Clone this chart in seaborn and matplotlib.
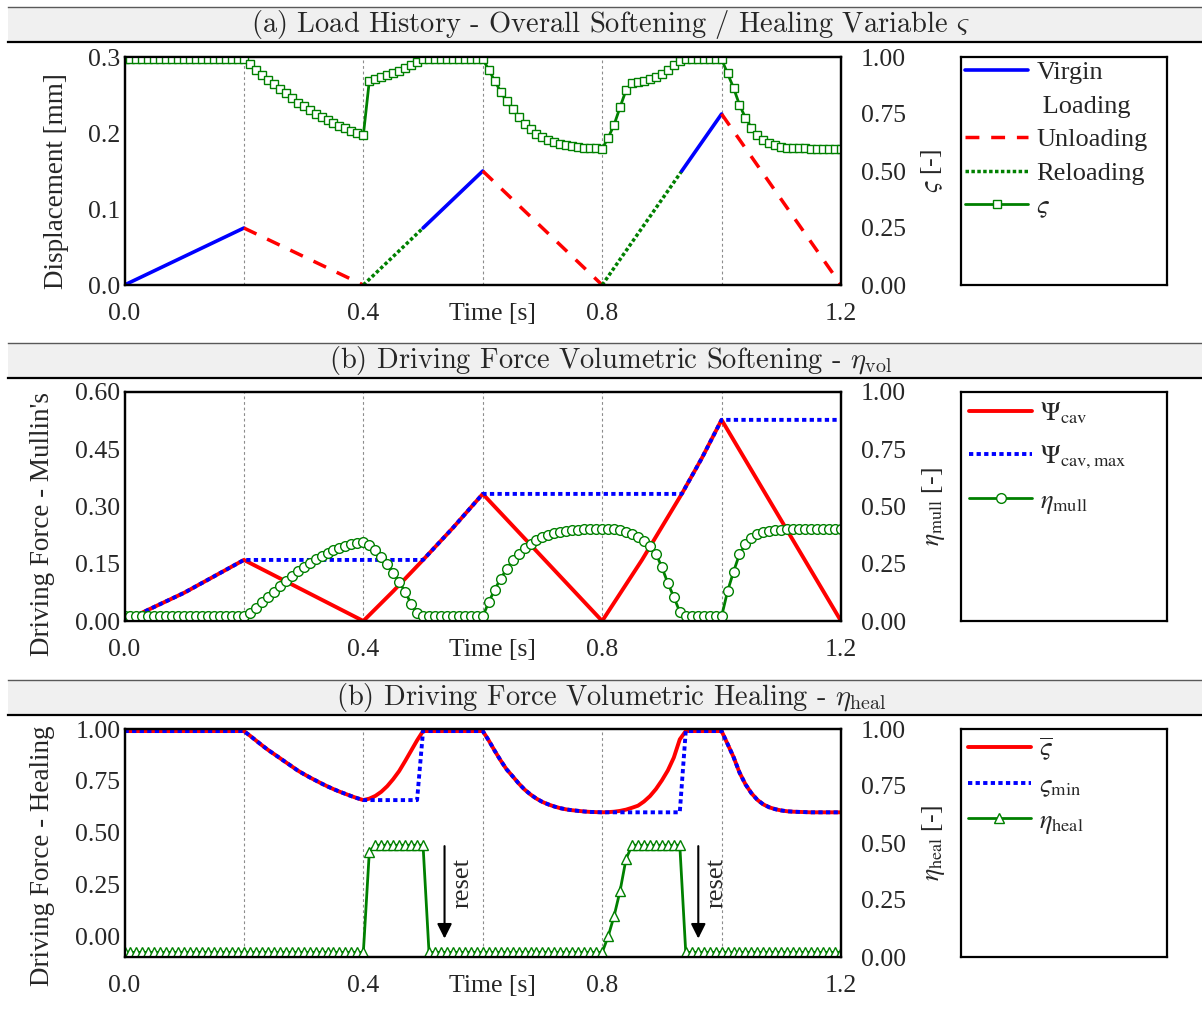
import numpy as np
import matplotlib
matplotlib.use("Agg")
import matplotlib.pyplot as plt
import matplotlib.ticker as mticker
from matplotlib.lines import Line2D
import seaborn as sns

# ---------------- data ----------------
time = np.round(np.arange(121) * 0.01, 2)      # 0.00 ... 1.20 s

# displacement history: vertices and the loading phase of each leg
disp_t = [0.0, 0.2, 0.4, 0.5, 0.6, 0.8, 0.9333, 1.0, 1.2]
disp_u = [0.0, 0.075, 0.0, 0.075, 0.15, 0.0, 0.15, 0.225, 0.0]
disp_phase = ["virgin", "unload", "reload", "virgin", "unload", "reload", "virgin", "unload"]

cycle_marks = [0.2, 0.4, 0.6, 0.8, 1.0]

# softening branches shared by sigma, sigma_bar and sigma_min
soft_a = [0.99, 0.968, 0.945, 0.922, 0.90, 0.88, 0.86, 0.84, 0.82, 0.80,
          0.783, 0.767, 0.752, 0.737, 0.723, 0.71, 0.698, 0.687, 0.676, 0.666,
          0.657]                                             # 0.20 - 0.40 s
soft_b = [0.99, 0.945, 0.895, 0.848, 0.805, 0.772, 0.738, 0.708, 0.684, 0.664,
          0.648, 0.636, 0.626, 0.618, 0.612, 0.608, 0.605, 0.602, 0.60, 0.599,
          0.598]                                             # 0.60 - 0.80 s
soft_c = [0.99, 0.928, 0.865, 0.79, 0.733, 0.69, 0.658, 0.636, 0.622, 0.613,
          0.607, 0.603, 0.601, 0.60, 0.599, 0.598, 0.598, 0.598, 0.598, 0.598,
          0.598]                                             # 1.00 - 1.20 s

sigma = ([0.99] * 20 + soft_a
         + [0.895, 0.903, 0.911, 0.92, 0.929, 0.938, 0.95, 0.963, 0.978, 0.99] + [0.99] * 9
         + soft_b
         + [0.645, 0.703, 0.78, 0.855, 0.886, 0.891, 0.896, 0.903, 0.913,
            0.926, 0.943, 0.963, 0.983] + [0.99] * 6
         + soft_c)

sig_bar = ([0.99] * 20 + soft_a
           + [0.664, 0.677, 0.697, 0.724, 0.758, 0.797, 0.845, 0.895, 0.945] + [0.99] * 10
           + soft_b
           + [0.599, 0.601, 0.605, 0.611, 0.62, 0.63, 0.65, 0.676, 0.71,
              0.752, 0.80, 0.862, 0.95] + [0.99] * 6
           + soft_c)

sig_min = ([0.99] * 20 + soft_a
           + [0.657] * 9 + [0.99] * 10
           + soft_b
           + [0.598] * 13 + [0.99] * 6
           + soft_c)

eta_mull = ([0.02] * 21
            + [0.035, 0.058, 0.082, 0.105, 0.128, 0.152, 0.175, 0.196, 0.217, 0.236,
               0.254, 0.27, 0.285, 0.298, 0.31, 0.32, 0.329, 0.336, 0.341, 0.345]
            + [0.33, 0.308, 0.28, 0.247, 0.21, 0.172, 0.127, 0.076, 0.035, 0.02]
            + [0.02] * 10
            + [0.082, 0.137, 0.185, 0.227, 0.265, 0.293, 0.318, 0.338, 0.354, 0.367,
               0.377, 0.385, 0.39, 0.394, 0.397, 0.399, 0.401, 0.402, 0.403, 0.403]
            + [0.402, 0.40, 0.396, 0.39, 0.38, 0.367, 0.35, 0.327, 0.294, 0.235,
               0.165, 0.105, 0.04, 0.02]
            + [0.02] * 6
            + [0.13, 0.215, 0.292, 0.335, 0.362, 0.378, 0.388, 0.394, 0.397, 0.399]
            + [0.40] * 10)

eta_heal = ([0.02] * 41
            + [0.46] + [0.49] * 9
            + [0.02] * 30
            + [0.09, 0.18, 0.29, 0.43] + [0.49] * 9
            + [0.02] * 27)

psi_t = [0.0, 0.1, 0.2, 0.4, 0.45, 0.5, 0.55, 0.6, 0.8, 0.8667, 0.9333, 0.9667, 1.0, 1.2]
psi = [0.0, 0.074, 0.16, 0.0, 0.078, 0.16, 0.244, 0.333, 0.0, 0.16, 0.333, 0.426, 0.527, 0.0]
psimax_t = [0.0, 0.1, 0.2, 0.5, 0.55, 0.6, 0.9333, 0.9667, 1.0, 1.2]
psimax = [0.0, 0.074, 0.16, 0.16, 0.244, 0.333, 0.333, 0.426, 0.527, 0.527]

reset_t = [0.536, 0.961]
reset_label_t = [0.566, 0.992]

# ---------------- style ----------------
sns.set_theme(style="white")
plt.rcParams["font.family"] = ["Liberation Serif", "DejaVu Serif"]
plt.rcParams["mathtext.fontset"] = "stix"
plt.rcParams["axes.unicode_minus"] = False

FS = 18.5
LFS = 19
W, H = 1202, 1010
GREEN, RED, BLUE = "#008000", "#ff0000", "#0000ff"
DASH = (0, (4, 3.4))
DOT_G = (0, (1, 0.7))
DOT_B = (0, (1.1, 0.85))


def box(x0, y0, x1, y1):
    return [x0 / W, 1 - y1 / H, (x1 - x0) / W, (y1 - y0) / H]


fig = plt.figure(figsize=(W / 100, H / 100), dpi=100)


def title_bar(y0, y1, text):
    tb = fig.add_axes(box(8, y0, W, y1))
    tb.set_facecolor("#f0f0f0")
    tb.set_xticks([])
    tb.set_yticks([])
    tb.spines["left"].set_visible(False)
    tb.spines["right"].set_visible(False)
    tb.spines["top"].set(color="0.35", linewidth=1.0)
    tb.spines["bottom"].set(color="black", linewidth=1.6)
    tb.text(0.505, 0.5, text, transform=tb.transAxes, ha="center", va="center",
            fontsize=20.5, family="cmr10", math_fontfamily="cm")


def make_axes(y0, y1):
    ax = fig.add_axes(box(124.5, y0, 841, y1))
    ax2 = ax.twinx()
    for t in cycle_marks:
        ax.axvline(t, color="0.55", lw=0.8, ls=(0, (2.5, 2.5)), zorder=0)
    return ax, ax2


def finish(ax, ax2, ylim, yticks, yfmt, ylabel, ylab_x, ylab_y, rlabel):
    ax.set_xlim(0, 1.2)
    ax.set_xticks([0.0, 0.4, 0.8, 1.2])
    ax.xaxis.set_major_formatter(mticker.FormatStrFormatter("%.1f"))
    ax.set_ylim(*ylim)
    ax.set_yticks(yticks)
    ax.yaxis.set_major_formatter(mticker.FormatStrFormatter(yfmt))
    ax2.set_ylim(0, 1)
    ax2.set_yticks([0, 0.25, 0.5, 0.75, 1.0])
    ax2.yaxis.set_major_formatter(mticker.FormatStrFormatter("%.2f"))
    ax.tick_params(axis="x", length=0, pad=13, labelsize=FS)
    ax.tick_params(axis="y", length=0, pad=3, labelsize=FS)
    ax2.tick_params(axis="y", length=0, pad=14.5, labelsize=FS)
    for a in (ax, ax2):
        for s in a.spines.values():
            s.set(color="black", linewidth=1.6)
    ax.set_xlabel("Time [s]", fontsize=FS)
    ax.xaxis.set_label_coords(0.514, -18 / 228)
    ax.set_ylabel(ylabel, fontsize=19.5)
    ax.yaxis.set_label_coords(ylab_x, ylab_y)
    ax2.set_ylabel(rlabel, fontsize=FS)
    ax2.yaxis.set_label_coords(1.11, 0.5)


def legend_box(y0, y1, handles, labels, spacing, pad):
    lg = fig.add_axes(box(961, y0, 1167, y1))
    lg.set_xticks([])
    lg.set_yticks([])
    lg.set_facecolor("white")
    for s in lg.spines.values():
        s.set(color="black", linewidth=1.6)
    lg.legend(handles, labels, loc="upper left", bbox_to_anchor=(0, 1),
              borderaxespad=0, borderpad=pad, frameon=False, handlelength=2.4,
              handletextpad=0.3, labelspacing=spacing, fontsize=LFS)


# ---------------- (a) load history ----------------
title_bar(7, 42, r"(a) Load History - Overall Softening / Healing Variable $\varsigma$")
ax, ax2 = make_axes(57, 285)
phase_style = {"virgin": dict(color=BLUE, lw=2.6),
               "unload": dict(color=RED, lw=2.5, linestyle=DASH),
               "reload": dict(color=GREEN, lw=2.5, linestyle=DOT_G)}
first = {}
for i, ph in enumerate(disp_phase):
    sns.lineplot(x=disp_t[i:i + 2], y=disp_u[i:i + 2], ax=ax, sort=False,
                 estimator=None, legend=False, **phase_style[ph])
    first.setdefault(ph, ax.lines[-1])
sns.lineplot(x=time, y=sigma, ax=ax2, sort=False, estimator=None, legend=False,
             color=GREEN, lw=2, marker="s", ms=6, mfc="white", mec=GREEN, mew=1)
h_sig = ax2.lines[-1]
finish(ax, ax2, (0, 0.3), [0, 0.1, 0.2, 0.3], "%.1f", "Displacement [mm]",
       -0.0775, 0.456, r"$\varsigma$ [-]")
legend_box(57, 285,
           [first["virgin"], Line2D([], [], ls="none"), first["unload"], first["reload"], h_sig],
           ["Virgin", " Loading", "Unloading", "Reloading", r"$\varsigma$"], 0.38, 0.15)

# ---------------- (b) volumetric softening ----------------
title_bar(343, 378, r"(b) Driving Force Volumetric Softening - $\eta_{\mathrm{vol}}$")
ax, ax2 = make_axes(392, 621)
sns.lineplot(x=psi_t, y=psi, ax=ax, sort=False, estimator=None, legend=False,
             color=RED, lw=2.8)
h_psi = ax.lines[-1]
sns.lineplot(x=psimax_t, y=psimax, ax=ax, sort=False, estimator=None, legend=False,
             color=BLUE, lw=2.8, linestyle=DOT_B)
h_psimax = ax.lines[-1]
sns.lineplot(x=time, y=eta_mull, ax=ax2, sort=False, estimator=None, legend=False,
             color=GREEN, lw=2, marker="o", ms=7, mfc="white", mec=GREEN, mew=1)
h_mull = ax2.lines[-1]
finish(ax, ax2, (0, 0.6), [0, 0.15, 0.30, 0.45, 0.60], "%.2f", "Driving Force - Mullin's",
       -0.097, 0.424, r"$\eta_{\mathrm{mull}}$ [-]")
legend_box(392, 621, [h_psi, h_psimax, h_mull],
           [r"$\Psi_{\mathrm{cav}}$", r"$\Psi_{\mathrm{cav,max}}$", r"$\eta_{\mathrm{mull}}$"],
           0.68, 0.3)

# ---------------- (c) volumetric healing ----------------
title_bar(680, 715, r"(b) Driving Force Volumetric Healing - $\eta_{\mathrm{heal}}$")
ax, ax2 = make_axes(729, 957)
sns.lineplot(x=time, y=sig_bar, ax=ax, sort=False, estimator=None, legend=False,
             color=RED, lw=2.8)
h_bar = ax.lines[-1]
sns.lineplot(x=time, y=sig_min, ax=ax, sort=False, estimator=None, legend=False,
             color=BLUE, lw=2.8, linestyle=DOT_B)
h_min = ax.lines[-1]
sns.lineplot(x=time, y=eta_heal, ax=ax2, sort=False, estimator=None, legend=False,
             color=GREEN, lw=2, marker="^", ms=6.5, mfc="white", mec=GREEN, mew=1)
h_heal = ax2.lines[-1]
for xa, xt in zip(reset_t, reset_label_t):
    ax.annotate("", xy=(xa, -0.011), xytext=(xa, 0.435),
                arrowprops=dict(arrowstyle="-|>", color="black", lw=1.5,
                                mutation_scale=22, shrinkA=0, shrinkB=0))
    ax.text(xt, 0.258, "reset", rotation=90, ha="center", va="center", fontsize=LFS)
finish(ax, ax2, (-0.1, 1.0), [0, 0.25, 0.5, 0.75, 1.0], "%.2f", "Driving Force - Healing",
       -0.097, 0.443, r"$\eta_{\mathrm{heal}}$ [-]")
legend_box(729, 957, [h_bar, h_min, h_heal],
           [r"$\overline{\varsigma}$", r"$\varsigma_{\mathrm{min}}$", r"$\eta_{\mathrm{heal}}$"],
           0.4, 0.25)

fig.savefig("out.png", dpi=100)
